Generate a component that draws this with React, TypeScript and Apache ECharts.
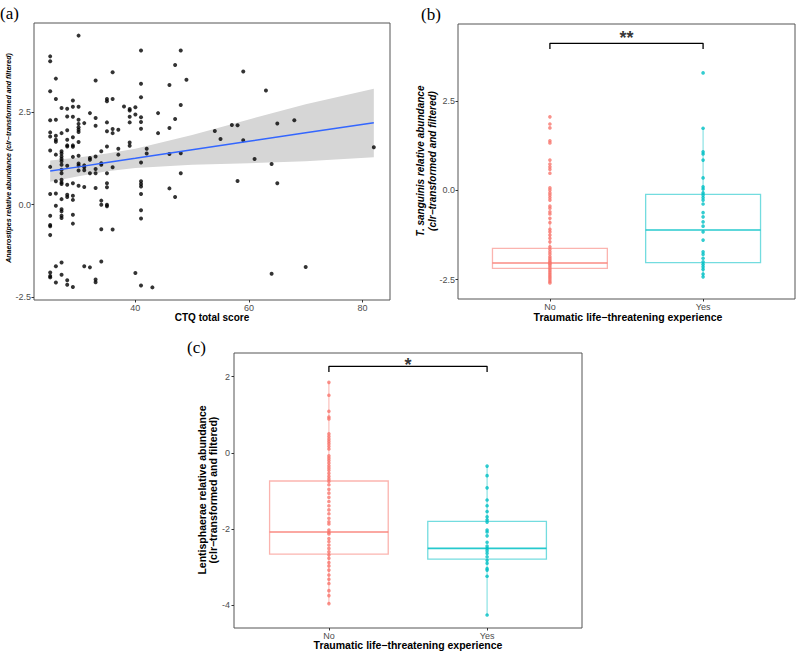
import React, { useEffect, useRef } from "react";
import * as echarts from "echarts";

// ---------- Panel (a): CTQ total score vs Anaerostipes ----------
const ctqScores = [25, 26, 27, 28, 29, 30, 31, 32, 33, 34, 35, 36, 37, 38, 39, 40, 41, 42, 43, 44, 46, 47, 48, 49, 54, 55, 57, 58, 59, 61, 63, 64, 65, 68, 70, 82];
const anaerostipesByScore = [
  [4.0, 3.87, 3.06, 2.28, 1.95, 1.84, 1.46, 1.02, 0.29, -0.3, -0.55, -0.58, -0.82, -1.83, -1.92, -1.96],
  [3.4, 2.85, 2.29, 1.86, 1.75, 1.7, 1.35, 0.63, 0.3, -0.03, -1.66, -2.1],
  [2.61, 1.93, 1.44, 1.38, 1.3, 1.23, 1.17, 1.08, 0.94, 0.85, 0.67, 0.6, 0.56, 0.15, -0.12, -0.18, -0.3, -0.36, -1.56, -1.89],
  [2.59, 2.38, 2.01, 1.75, 1.6, 1.57, 1.05, 0.54, 0.27, 0.21, -2.04, -2.16],
  [2.81, 2.64, 2.37, 1.82, 1.6, 1.56, 1.29, 0.58, 0.24, 0.13, -0.27, -0.51, -2.22],
  [4.56, 2.64, 2.29, 2.18, 2.09, 2.02, 1.96, 1.69, 1.32, 1.11, 1.06, 0.92, 0.51],
  [2.2, 1.06, 1.01, 0.93, 0.48, -1.66],
  [2.47, 1.26, 1.21, 0.85, -1.69],
  [3.35, 2.34, 2.13, 1.3, 0.96, 0.85, 0.45, -2.02, -2.09],
  [1.44, 1.12, 1.08, 0.11, 0.0, -0.66, -1.53],
  [2.85, 2.79, 2.22, 1.98, 1.57, 0.85, 0.58, 0.47, 0.0, -0.04],
  [3.57, 2.85, 2.04, 1.93, 1.01, -0.67],
  [2.02, 1.51, 1.35],
  [2.65],
  [2.58, 2.54, 2.37, 2.22, 1.68, 1.59],
  [2.63, 2.43, -1.84],
  [4.16, 3.26, 2.9, 2.36, 2.23, 2.05, 1.14, 0.63, 0.56, 0.49, 0.29, -0.15, -0.37, -2.18],
  [1.51, 1.38],
  [-2.23],
  [2.47, 1.93],
  [3.23, 2.07, 1.37, 0.44],
  [3.77, 2.31, 0.21],
  [4.16, 2.69, 1.39, 0.85],
  [3.37],
  [1.99],
  [1.77],
  [2.15],
  [2.14, 0.64],
  [3.59, 1.74],
  [1.23],
  [3.08],
  [1.1, -1.86],
  [2.19, 0.58],
  [2.28],
  [-1.68],
  [1.55],
];
const fitX = [25, 30, 35, 40, 50, 60, 70, 82];
const fitY = [0.91, 1.02, 1.14, 1.25, 1.48, 1.71, 1.94, 2.21];
const ciUpper = [1.19, 1.27, 1.38, 1.51, 1.88, 2.3, 2.71, 3.13];
const ciLower = [0.62, 0.77, 0.9, 0.99, 1.08, 1.12, 1.17, 1.28];
const aXTicks = [40, 60, 80];
const aYTicks = [-2.5, 0, 2.5];

// ---------- Panels (b), (c): group comparison ----------
const groups = ["No", "Yes"];
const groupColors = ["#F8766D", "#00BFC4"];

const sanguinisNo = [2.06, 1.86, 1.75, 1.39, 1.33, 0.85, 0.74, 0.66, 0.59, 0.48, 0.07, 0.01, -0.07, -0.13, -0.2, -0.27, -0.44, -0.5, -0.6, -0.66, -0.78, -0.9, -1.09, -1.16, -1.25, -1.34, -1.44, -1.58, -1.65, -1.72, -1.78, -1.85, -1.9, -1.95, -2.0, -2.03, -2.06, -2.1, -2.15, -2.2, -2.25, -2.3, -2.35, -2.4, -2.45, -2.5, -2.55, -2.59];
const sanguinisYes = [3.29, 1.74, 1.08, 1.02, 0.85, 0.35, 0.1, 0.04, -0.07, -0.13, -0.2, -0.27, -0.38, -0.62, -0.74, -0.88, -1.0, -1.16, -1.39, -1.72, -1.79, -1.9, -2.0, -2.07, -2.14, -2.21, -2.34, -2.42];
// [lower whisker, Q1, median, Q3, upper whisker]
const sanguinisBoxNo = [-2.59, -2.18, -2.03, -1.62, -0.78];
const sanguinisBoxYes = [-2.42, -2.02, -1.11, -0.11, 1.74];
const bYTicks = [-2.5, 0, 2.5];

const lentiNo = [1.85, 1.51, 1.09, 0.94, 0.89, 0.5, 0.43, 0.36, 0.3, 0.24, 0.17, 0.1, -0.08, -0.14, -0.2, -0.27, -0.34, -0.4, -0.46, -0.54, -0.62, -0.69, -0.75, -0.84, -0.96, -1.06, -1.17, -1.28, -1.39, -1.5, -1.6, -1.72, -1.81, -1.87, -2.03, -2.09, -2.13, -2.25, -2.33, -2.42, -2.51, -2.6, -2.68, -2.77, -2.88, -2.97, -3.08, -3.21, -3.32, -3.43, -3.62, -3.75, -3.96];
const lentiYes = [-0.35, -0.6, -0.92, -1.24, -1.39, -1.54, -1.68, -1.76, -1.82, -2.03, -2.08, -2.18, -2.35, -2.45, -2.51, -2.57, -2.64, -2.73, -2.82, -2.9, -3.04, -3.08, -3.24, -4.26];
const lentiBoxNo = [-3.97, -2.66, -2.08, -0.74, 1.85];
const lentiBoxYes = [-4.26, -2.79, -2.51, -1.8, -0.35];
const cYTicks = [-4, -2, 0, 2];

const FONT = "Liberation Sans";
const BOX_WIDTH = 0.75;

function valueAxis(gridIndex: number, min: number, max: number, ticks: number[], fmt: (v: number) => string, margin: number) {
  return {
    type: "value",
    gridIndex,
    min,
    max,
    axisLine: { show: false, onZero: false },
    splitLine: { show: false },
    axisTick: { show: true, length: 2.5, lineStyle: { color: "#333", width: 1 }, customValues: ticks },
    axisLabel: { show: true, customValues: ticks, color: "#4D4D4D", fontSize: 9, fontFamily: FONT, margin, formatter: fmt },
  };
}

function boxSeries(gridIndex: number, stats: number[][]) {
  return {
    type: "custom",
    xAxisIndex: gridIndex,
    yAxisIndex: gridIndex,
    silent: true,
    z: 1,
    data: stats.map((s, i) => [i + 1, ...s]),
    encode: { x: 0, y: [1, 2, 3, 4, 5] },
    renderItem: (params: any, api: any) => {
      const x = api.value(0);
      const lo = api.coord([x, api.value(1)]);
      const q1 = api.coord([x, api.value(2)]);
      const md = api.coord([x, api.value(3)]);
      const q3 = api.coord([x, api.value(4)]);
      const hi = api.coord([x, api.value(5)]);
      const half = api.size([BOX_WIDTH, 0])[0] / 2;
      const color = groupColors[params.dataIndex];
      const faint = { stroke: color, lineWidth: 1, opacity: 0.55 };
      return {
        type: "group",
        children: [
          { type: "line", shape: { x1: hi[0], y1: hi[1], x2: q3[0], y2: q3[1] }, style: faint },
          { type: "line", shape: { x1: q1[0], y1: q1[1], x2: lo[0], y2: lo[1] }, style: faint },
          {
            type: "rect",
            shape: { x: q3[0] - half, y: q3[1], width: half * 2, height: q1[1] - q3[1] },
            style: { fill: "transparent", stroke: color, lineWidth: 1.3, opacity: 0.55 },
          },
          { type: "line", shape: { x1: md[0] - half, y1: md[1], x2: md[0] + half, y2: md[1] }, style: { stroke: color, lineWidth: 1.6, opacity: 0.85 } },
        ],
      };
    },
  };
}

function pointSeries(gridIndex: number, values: number[], group: number) {
  return {
    type: "scatter",
    xAxisIndex: gridIndex,
    yAxisIndex: gridIndex,
    z: 3,
    symbolSize: 3.6,
    itemStyle: { color: groupColors[group - 1] },
    data: values.map((v) => [group, v]),
  };
}

function bracketSeries(gridIndex: number, yTop: number, yFoot: number, label: string, yLabel: number) {
  return [
    {
      type: "line",
      xAxisIndex: gridIndex,
      yAxisIndex: gridIndex,
      symbol: "none",
      z: 4,
      lineStyle: { color: "#000", width: 1.3 },
      data: [
        [1, yFoot],
        [1, yTop],
        [2, yTop],
        [2, yFoot],
      ],
    },
    {
      type: "scatter",
      xAxisIndex: gridIndex,
      yAxisIndex: gridIndex,
      symbolSize: 1,
      z: 4,
      itemStyle: { color: "transparent" },
      label: { show: true, position: "inside", formatter: label, color: "#000", fontSize: 18, fontWeight: "bold", fontFamily: FONT },
      data: [[1.5, yLabel]],
    },
  ];
}

const catFmt = (v: number) => groups[Math.round(v) - 1] ?? "";

export default function App() {
  const ref = useRef<HTMLDivElement>(null);

  useEffect(() => {
    document.body.style.margin = "0";
    if (!ref.current) return;
    const chart = echarts.init(ref.current, null, { renderer: "svg" });

    const scatterA: number[][] = [];
    ctqScores.forEach((x, i) => anaerostipesByScore[i].forEach((y) => scatterA.push([x, y])));

    const titleStyle = (text: string, size: number, extra: any = {}) => ({
      text,
      fontFamily: FONT,
      fontSize: size,
      fontWeight: "bold",
      fill: "#000",
      align: "center",
      verticalAlign: "middle",
      ...extra,
    });

    const option: any = {
      animation: false,
      backgroundColor: "#fff",
      grid: [
        { left: 34, top: 23, width: 356, height: 277, show: true, borderColor: "#555", borderWidth: 1, backgroundColor: "#fff" },
        { left: 458, top: 24, width: 337, height: 275, show: true, borderColor: "#555", borderWidth: 1, backgroundColor: "#fff" },
        { left: 234, top: 353, width: 348, height: 275, show: true, borderColor: "#555", borderWidth: 1, backgroundColor: "#fff" },
      ],
      xAxis: [
        valueAxis(0, 22.15, 84.85, aXTicks, (v) => String(v), 3),
        valueAxis(1, 0.4, 2.6, [1, 2], catFmt, 3),
        valueAxis(2, 0.4, 2.6, [1, 2], catFmt, 3),
      ],
      yAxis: [
        valueAxis(0, -2.57, 4.9, aYTicks, (v) => v.toFixed(1), 3),
        valueAxis(1, -3.04, 4.66, bYTicks, (v) => v.toFixed(1), 3),
        valueAxis(2, -4.6, 2.62, cYTicks, (v) => String(v), 4),
      ],
      series: [
        {
          type: "custom",
          xAxisIndex: 0,
          yAxisIndex: 0,
          silent: true,
          z: 1,
          data: [[fitX[0], ciLower[0]]],
          renderItem: (_p: any, api: any) => {
            const pts: number[][] = [];
            fitX.forEach((x, i) => pts.push(api.coord([x, ciUpper[i]])));
            for (let i = fitX.length - 1; i >= 0; i--) pts.push(api.coord([fitX[i], ciLower[i]]));
            return { type: "polygon", shape: { points: pts }, style: { fill: "#D6D6D6" } };
          },
        },
        {
          type: "scatter",
          xAxisIndex: 0,
          yAxisIndex: 0,
          z: 2,
          symbolSize: 4,
          itemStyle: { color: "#000" },
          data: scatterA,
        },
        {
          type: "line",
          xAxisIndex: 0,
          yAxisIndex: 0,
          z: 3,
          symbol: "none",
          lineStyle: { color: "#3366FF", width: 1.5 },
          data: fitX.map((x, i) => [x, fitY[i]]),
        },
        boxSeries(1, [sanguinisBoxNo, sanguinisBoxYes]),
        pointSeries(1, sanguinisNo, 1),
        pointSeries(1, sanguinisYes, 2),
        ...bracketSeries(1, 4.12, 3.96, "**", 4.28),
        boxSeries(2, [lentiBoxNo, lentiBoxYes]),
        pointSeries(2, lentiNo, 1),
        pointSeries(2, lentiYes, 2),
        ...bracketSeries(2, 2.27, 2.12, "*", 2.3),
      ],
      graphic: [
        { type: "text", x: 0, y: 13, style: { text: "(a)", fontFamily: "Liberation Serif", fontSize: 17, fill: "#000", align: "left", verticalAlign: "middle" } },
        { type: "text", x: 421, y: 14, style: { text: "(b)", fontFamily: "Liberation Serif", fontSize: 17, fill: "#000", align: "left", verticalAlign: "middle" } },
        { type: "text", x: 187, y: 347, style: { text: "(c)", fontFamily: "Liberation Serif", fontSize: 17, fill: "#000", align: "left", verticalAlign: "middle" } },
        { type: "text", x: 8.5, y: 158, rotation: Math.PI / 2, style: titleStyle("Anaerostipes relative abundance (clr\u2212transformed and filtered)", 7, { fontStyle: "italic" }) },
        { type: "text", x: 212, y: 317.5, style: titleStyle("CTQ total score", 10) },
        { type: "text", x: 426, y: 161, rotation: Math.PI / 2, style: titleStyle("T. sanguinis relative abundance\n(clr\u2212transformed and filtered)", 10, { fontStyle: "italic", lineHeight: 12 }) },
        { type: "text", x: 628, y: 316.5, style: titleStyle("Traumatic life\u2212threatening experience", 10.5) },
        { type: "text", x: 408, y: 645, style: titleStyle("Traumatic life\u2212threatening experience", 10.5) },
        { type: "text", x: 207.5, y: 490, rotation: Math.PI / 2, style: titleStyle("Lentisphaerae relative abundance\n(clr\u2212transformed and filtered)", 10.5, { lineHeight: 11.6 }) },
      ],
    };

    chart.setOption(option);
    return () => chart.dispose();
  }, []);

  return <div ref={ref} style={{ width: 800, height: 651 }} />;
}
